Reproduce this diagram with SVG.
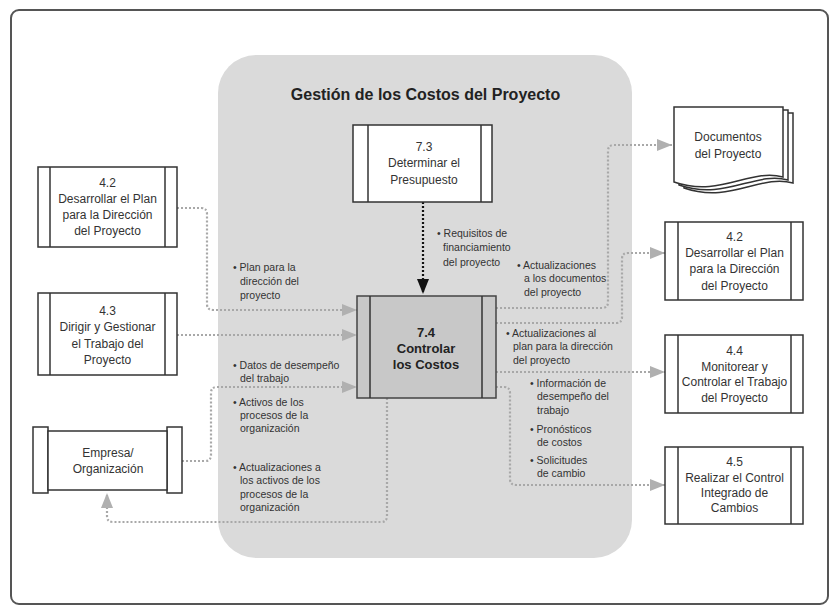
<svg xmlns="http://www.w3.org/2000/svg" width="831" height="607" viewBox="0 0 831 607">
<defs>
<style>
.frame{fill:#fff;stroke:#555;stroke-width:2}
.region{fill:#dadada}
.box{fill:#fff;stroke:#333;stroke-width:1.5}
.box74{fill:#c8c8c8;stroke:#444;stroke-width:1.5}
.bar{stroke:#333;stroke-width:1.5}
.nt{font-family:"Liberation Sans",Arial,sans-serif;font-size:12px;fill:#333;text-anchor:middle}
.bt{font-family:"Liberation Sans",Arial,sans-serif;font-size:13px;font-weight:bold;fill:#222;text-anchor:middle}
.title{font-family:"Liberation Sans",Arial,sans-serif;font-size:16px;font-weight:bold;fill:#222;text-anchor:middle}
.lb{font-family:"Liberation Sans",Arial,sans-serif;font-size:10.5px;fill:#333}
.dot{fill:none;stroke:#a8a8a8;stroke-width:2.2;stroke-dasharray:2 2}
.dotk{fill:none;stroke:#111;stroke-width:2.2;stroke-dasharray:2 2}
</style>
<marker id="ag" markerUnits="userSpaceOnUse" markerWidth="16" markerHeight="12" refX="15" refY="6" orient="auto">
<path d="M0,0 L15,6 L0,12 Z" fill="#b0b0b0"/>
</marker>
<marker id="ak" markerUnits="userSpaceOnUse" markerWidth="16" markerHeight="12" refX="15" refY="6" orient="auto">
<path d="M0,0 L15,6 L0,12 Z" fill="#111"/>
</marker>
</defs>
<rect class="frame" x="11" y="10" width="817" height="594" rx="8"/>
<rect class="region" x="218" y="55" width="414" height="503" rx="38"/>
<text class="title" x="425.5" y="100">Gestión de los Costos del Proyecto</text>

<g id="connectors">
<path class="dot" d="M177,208 H201 Q207,208 207,214 V304 Q207,310 213,310 H357" marker-end="url(#ag)"/>
<path class="dot" d="M177,335 H357" marker-end="url(#ag)"/>
<path class="dot" d="M182,461 H205 Q211,461 211,455 V393 Q211,387 217,387 H357" marker-end="url(#ag)"/>
<path class="dot" d="M387,398 V516 Q387,522 381,522 H113 Q107,522 107,516 V493" marker-end="url(#ag)"/>
<path class="dotk" d="M423,202 V294" marker-end="url(#ak)"/>
<path class="dot" d="M496,308 H602 Q608,308 608,302 V151 Q608,145 614,145 H672" marker-end="url(#ag)"/>
<path class="dot" d="M496,323 H616 Q622,323 622,317 V259 Q622,253 628,253 H665" marker-end="url(#ag)"/>
<path class="dot" d="M496,372 H665" marker-end="url(#ag)"/>
<path class="dot" d="M496,387 H504 Q510,387 510,393 V479 Q510,485 516,485 H665" marker-end="url(#ag)"/>
</g>

<g id="n73">
<rect class="box" x="353" y="125" width="139" height="77"/>
<line class="bar" x1="368" y1="125" x2="368" y2="202"/>
<line class="bar" x1="481" y1="125" x2="481" y2="202"/>
<text class="nt" x="424" y="151">7.3</text>
<text class="nt" x="424" y="167">Determinar el</text>
<text class="nt" x="424" y="184">Presupuesto</text>
</g>

<g id="n74">
<rect class="box74" x="357" y="296" width="139" height="102"/>
<line class="bar" x1="370" y1="296" x2="370" y2="398"/>
<line class="bar" x1="482" y1="296" x2="482" y2="398"/>
<text class="bt" x="426" y="337">7.4</text>
<text class="bt" x="426" y="353">Controlar</text>
<text class="bt" x="426" y="369">los Costos</text>
</g>

<g id="n42l">
<rect class="box" x="38" y="167" width="139" height="80"/>
<line class="bar" x1="50" y1="167" x2="50" y2="247"/>
<line class="bar" x1="165" y1="167" x2="165" y2="247"/>
<text class="nt" x="107.5" y="187">4.2</text>
<text class="nt" x="107.5" y="203">Desarrollar el Plan</text>
<text class="nt" x="107.5" y="219">para la Dirección</text>
<text class="nt" x="107.5" y="235">del Proyecto</text>
</g>

<g id="n43">
<rect class="box" x="38" y="293" width="139" height="82"/>
<line class="bar" x1="50" y1="293" x2="50" y2="375"/>
<line class="bar" x1="165" y1="293" x2="165" y2="375"/>
<text class="nt" x="107.5" y="315">4.3</text>
<text class="nt" x="107.5" y="331">Dirigir y Gestionar</text>
<text class="nt" x="107.5" y="348">el Trabajo del</text>
<text class="nt" x="107.5" y="364">Proyecto</text>
</g>

<g id="nemp">
<rect class="box" x="33" y="427" width="15" height="66"/>
<rect class="box" x="167" y="427" width="15" height="66"/>
<rect class="box" x="48" y="431" width="119" height="59"/>
<text class="nt" x="108" y="457">Empresa/</text>
<text class="nt" x="108" y="473">Organización</text>
</g>

<g id="ndocs">
<path class="box" d="M684,113 H793 V183 C760,174 730,204 684,188 Z"/>
<path class="box" d="M679,110 H788 V180 C755,171 725,201 679,185 Z"/>
<path class="box" d="M674,107 H783 V177 C750,168 720,198 674,182 Z"/>
<text class="nt" x="728" y="141">Documentos</text>
<text class="nt" x="728" y="158">del Proyecto</text>
</g>

<g id="n42r">
<rect class="box" x="665" y="222" width="138" height="78"/>
<line class="bar" x1="678" y1="222" x2="678" y2="300"/>
<line class="bar" x1="791" y1="222" x2="791" y2="300"/>
<text class="nt" x="734.5" y="241">4.2</text>
<text class="nt" x="734.5" y="257">Desarrollar el Plan</text>
<text class="nt" x="734.5" y="273">para la Dirección</text>
<text class="nt" x="734.5" y="290">del Proyecto</text>
</g>

<g id="n44">
<rect class="box" x="665" y="335" width="138" height="78"/>
<line class="bar" x1="678" y1="335" x2="678" y2="413"/>
<line class="bar" x1="791" y1="335" x2="791" y2="413"/>
<text class="nt" x="734.5" y="355">4.4</text>
<text class="nt" x="734.5" y="371">Monitorear y</text>
<text class="nt" x="734.5" y="386">Controlar el Trabajo</text>
<text class="nt" x="734.5" y="402">del Proyecto</text>
</g>

<g id="n45">
<rect class="box" x="665" y="447" width="138" height="77"/>
<line class="bar" x1="678" y1="447" x2="678" y2="524"/>
<line class="bar" x1="791" y1="447" x2="791" y2="524"/>
<text class="nt" x="734.5" y="466">4.5</text>
<text class="nt" x="734.5" y="482">Realizar el Control</text>
<text class="nt" x="734.5" y="497">Integrado de</text>
<text class="nt" x="734.5" y="512">Cambios</text>
</g>

<g id="labels">
<text class="lb" x="233" y="271">• Plan para la</text>
<text class="lb" x="240" y="285">dirección del</text>
<text class="lb" x="240" y="299">proyecto</text>
<text class="lb" x="233" y="369">• Datos de desempeño</text>
<text class="lb" x="240" y="382">del trabajo</text>
<text class="lb" x="233" y="406">• Activos de los</text>
<text class="lb" x="240" y="419">procesos de la</text>
<text class="lb" x="240" y="432">organización</text>
<text class="lb" x="233" y="471">• Actualizaciones a</text>
<text class="lb" x="240" y="484">los activos de los</text>
<text class="lb" x="240" y="498">procesos de la</text>
<text class="lb" x="240" y="511">organización</text>
<text class="lb" x="437" y="237">• Requisitos de</text>
<text class="lb" x="443" y="251">financiamiento</text>
<text class="lb" x="443" y="266">del proyecto</text>
<text class="lb" x="517" y="269">• Actualizaciones</text>
<text class="lb" x="524" y="282">a los documentos</text>
<text class="lb" x="524" y="296">del proyecto</text>
<text class="lb" x="506" y="337">• Actualizaciones al</text>
<text class="lb" x="513" y="350">plan para la dirección</text>
<text class="lb" x="513" y="364">del proyecto</text>
<text class="lb" x="530" y="387">• Información de</text>
<text class="lb" x="537" y="400">desempeño del</text>
<text class="lb" x="537" y="414">trabajo</text>
<text class="lb" x="530" y="433">• Pronósticos</text>
<text class="lb" x="537" y="446">de costos</text>
<text class="lb" x="530" y="464">• Solicitudes</text>
<text class="lb" x="537" y="477">de cambio</text>
</g>
</svg>
